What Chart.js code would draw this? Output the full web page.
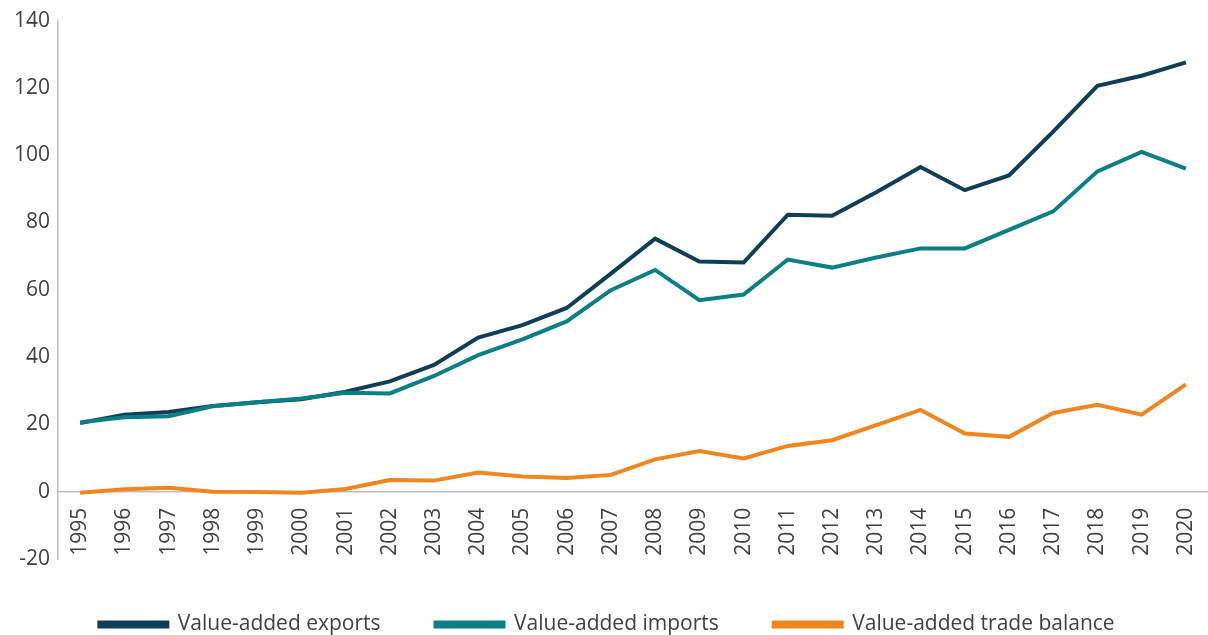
<!DOCTYPE html>
<html>
<head>
<meta charset="utf-8">
<script src="https://cdn.jsdelivr.net/npm/chart.js@4.4.0/dist/chart.umd.min.js"></script>
<style>
    html, body { margin: 0; padding: 0; background: #fff; }
    #wrap { width: 1208px; height: 635px; position: relative; }
</style>
</head>
<body>
<div id="wrap"><canvas id="chart"></canvas></div>
<script>
const years = ["1995", "1996", "1997", "1998", "1999", "2000", "2001", "2002", "2003", "2004", "2005", "2006", "2007",
    "2008", "2009", "2010", "2011", "2012", "2013", "2014", "2015", "2016", "2017", "2018", "2019", "2020"];

const exportsVA = [20.4, 22.9, 23.7, 25.5, 26.6, 27.5, 29.7, 32.8, 37.7, 45.8, 49.5, 54.6, 64.8,
    75.2, 68.4, 68.1, 82.3, 82.0, 89.0, 96.5, 89.6, 94.0, 107.0, 120.6, 123.6, 127.6];
const importsVA = [20.6, 22.1, 22.4, 25.4, 26.6, 27.7, 29.4, 29.2, 34.4, 40.6, 45.3, 50.6, 59.9,
    65.9, 56.9, 58.6, 69.0, 66.6, 69.6, 72.3, 72.3, 77.8, 83.3, 95.2, 101.0, 96.0];
const balanceVA = [-0.3, 0.7, 1.2, 0.0, -0.1, -0.3, 0.8, 3.5, 3.3, 5.7, 4.5, 4.1, 5.0,
    9.6, 12.1, 9.9, 13.6, 15.3, 19.8, 24.3, 17.3, 16.3, 23.4, 25.8, 22.9, 31.9];

const seriesNames = ["Value-added exports", "Value-added imports", "Value-added trade balance"];
const seriesColors = ["#0f3f58", "#0b7f86", "#f0861f"];

const fontFamily = "'Open Sans', 'DejaVu Sans', sans-serif";

function lineSet(i, values, order) {
    return {
        label: seriesNames[i],
        data: values,
        borderColor: seriesColors[i],
        backgroundColor: seriesColors[i],
        borderWidth: 4,
        pointRadius: 0,
        tension: 0,
        fill: false,
        order: order
    };
}

new Chart(document.getElementById("chart"), {
    type: "line",
    data: {
        labels: years,
        datasets: [
            lineSet(0, exportsVA, 1),
            lineSet(1, importsVA, 0),
            lineSet(2, balanceVA, 0)
        ]
    },
    options: {
        responsive: true,
        maintainAspectRatio: false,
        animation: false,
        layout: {padding: {top: 10, right: 0, left: 6, bottom: -10}},
        plugins: {
            tooltip: {enabled: false},
            legend: {
                position: "bottom",
                labels: {
                    sort: (a, b) => a.datasetIndex - b.datasetIndex,
                    boxWidth: 68,
                    boxHeight: 4,
                    padding: 55,
                    color: "#404040",
                    font: {family: fontFamily, size: 21}
                }
            }
        },
        scales: {
            x: {
                position: {y: 0},
                offset: true,
                grid: {display: false, drawTicks: false},
                border: {display: true, color: "#bfbfbf", width: 1.5},
                ticks: {
                    autoSkip: false,
                    minRotation: 90,
                    maxRotation: 90,
                    padding: 16,
                    color: "#404040",
                    font: {family: fontFamily, size: 21}
                },
                afterFit: (scale) => {
                    // the rotated year labels need no side room here
                    scale.paddingLeft = 0;
                    scale.paddingRight = 0;
                }
            },
            y: {
                min: -20,
                max: 140,
                grid: {display: false, drawTicks: false},
                border: {display: true, color: "#bfbfbf", width: 1.5},
                ticks: {
                    stepSize: 20,
                    padding: 8,
                    color: "#404040",
                    font: {family: fontFamily, size: 21}
                }
            }
        }
    }
});
</script>
</body>
</html>
